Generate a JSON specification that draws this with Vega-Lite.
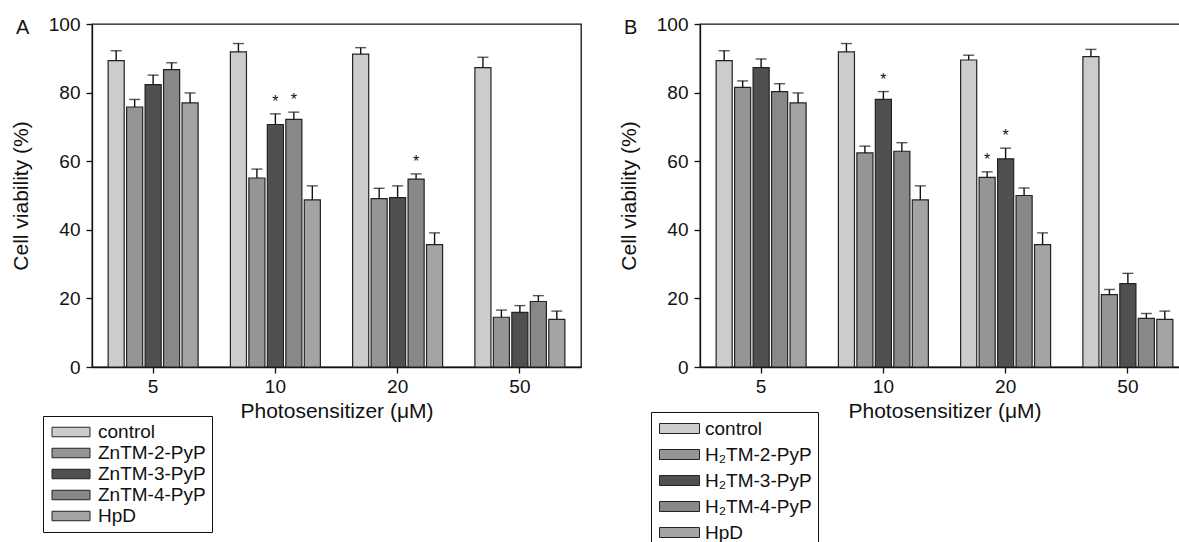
{
  "$schema": "https://vega.github.io/schema/vega-lite/v6.json",
  "padding": {"left": 9, "top": 14, "right": 0, "bottom": 0},
  "spacing": 35,
  "config": {
    "font": "Liberation Sans",
    "view": {"stroke": "#111", "strokeWidth": 1.3},
    "axis": {
      "domainColor": "#111", "domainWidth": 1.3, "tickColor": "#111", "tickWidth": 1.3, "tickSize": 6,
      "labelColor": "#111", "labelFont": "Liberation Sans", "labelFontSize": 19,
      "titleColor": "#111", "titleFont": "Liberation Sans", "titleFontSize": 21, "titleFontWeight": "normal",
      "grid": false
    },
    "legend": {
      "labelFont": "Liberation Sans", "labelFontSize": 19, "labelColor": "#111"
    }
  },
  "datasets": {
    "A": [
      {"conc": 5, "series": "control", "value": 89.3, "upper": 92.2, "sig": ""},
      {"conc": 5, "series": "ZnTM-2-PyP", "value": 75.8, "upper": 78.0, "sig": ""},
      {"conc": 5, "series": "ZnTM-3-PyP", "value": 82.3, "upper": 85.1, "sig": ""},
      {"conc": 5, "series": "ZnTM-4-PyP", "value": 86.7, "upper": 88.7, "sig": ""},
      {"conc": 5, "series": "HpD", "value": 77.0, "upper": 79.9, "sig": ""},
      {"conc": 10, "series": "control", "value": 91.9, "upper": 94.3, "sig": ""},
      {"conc": 10, "series": "ZnTM-2-PyP", "value": 55.1, "upper": 57.7, "sig": ""},
      {"conc": 10, "series": "ZnTM-3-PyP", "value": 70.7, "upper": 73.8, "sig": "*"},
      {"conc": 10, "series": "ZnTM-4-PyP", "value": 72.2, "upper": 74.3, "sig": "*"},
      {"conc": 10, "series": "HpD", "value": 48.7, "upper": 52.8, "sig": ""},
      {"conc": 20, "series": "control", "value": 91.2, "upper": 93.1, "sig": ""},
      {"conc": 20, "series": "ZnTM-2-PyP", "value": 49.1, "upper": 52.1, "sig": ""},
      {"conc": 20, "series": "ZnTM-3-PyP", "value": 49.4, "upper": 52.8, "sig": ""},
      {"conc": 20, "series": "ZnTM-4-PyP", "value": 54.8, "upper": 56.3, "sig": "*"},
      {"conc": 20, "series": "HpD", "value": 35.7, "upper": 39.1, "sig": ""},
      {"conc": 50, "series": "control", "value": 87.3, "upper": 90.3, "sig": ""},
      {"conc": 50, "series": "ZnTM-2-PyP", "value": 14.5, "upper": 16.6, "sig": ""},
      {"conc": 50, "series": "ZnTM-3-PyP", "value": 15.9, "upper": 17.9, "sig": ""},
      {"conc": 50, "series": "ZnTM-4-PyP", "value": 19.1, "upper": 20.8, "sig": ""},
      {"conc": 50, "series": "HpD", "value": 13.9, "upper": 16.3, "sig": ""}
    ],
    "B": [
      {"conc": 5, "series": "control", "value": 89.3, "upper": 92.2, "sig": ""},
      {"conc": 5, "series": "H₂TM-2-PyP", "value": 81.5, "upper": 83.4, "sig": ""},
      {"conc": 5, "series": "H₂TM-3-PyP", "value": 87.3, "upper": 89.8, "sig": ""},
      {"conc": 5, "series": "H₂TM-4-PyP", "value": 80.3, "upper": 82.6, "sig": ""},
      {"conc": 5, "series": "HpD", "value": 77.0, "upper": 79.9, "sig": ""},
      {"conc": 10, "series": "control", "value": 91.9, "upper": 94.3, "sig": ""},
      {"conc": 10, "series": "H₂TM-2-PyP", "value": 62.4, "upper": 64.4, "sig": ""},
      {"conc": 10, "series": "H₂TM-3-PyP", "value": 78.0, "upper": 80.3, "sig": "*"},
      {"conc": 10, "series": "H₂TM-4-PyP", "value": 62.9, "upper": 65.4, "sig": ""},
      {"conc": 10, "series": "HpD", "value": 48.7, "upper": 52.8, "sig": ""},
      {"conc": 20, "series": "control", "value": 89.5, "upper": 90.9, "sig": ""},
      {"conc": 20, "series": "H₂TM-2-PyP", "value": 55.3, "upper": 56.9, "sig": "*"},
      {"conc": 20, "series": "H₂TM-3-PyP", "value": 60.7, "upper": 63.8, "sig": "*"},
      {"conc": 20, "series": "H₂TM-4-PyP", "value": 50.0, "upper": 52.2, "sig": ""},
      {"conc": 20, "series": "HpD", "value": 35.7, "upper": 39.1, "sig": ""},
      {"conc": 50, "series": "control", "value": 90.5, "upper": 92.6, "sig": ""},
      {"conc": 50, "series": "H₂TM-2-PyP", "value": 21.1, "upper": 22.6, "sig": ""},
      {"conc": 50, "series": "H₂TM-3-PyP", "value": 24.3, "upper": 27.3, "sig": ""},
      {"conc": 50, "series": "H₂TM-4-PyP", "value": 14.2, "upper": 15.6, "sig": ""},
      {"conc": 50, "series": "HpD", "value": 13.9, "upper": 16.3, "sig": ""}
    ]
  },
  "resolve": {"scale": {"x": "independent", "y": "independent", "xOffset": "independent", "color": "independent"}, "legend": {"color": "independent"}},
  "hconcat": [
    {
      "width": 489, "height": 343,
      "title": {"text": "A", "anchor": "start", "frame": "group", "orient": "top", "offset": 0, "dx": -76, "dy": 33, "baseline": "middle", "fontSize": 20, "fontWeight": "normal", "color": "#111", "font": "Liberation Sans"},
      "data": {"name": "A"},
      "encoding": {
        "x": {"field": "conc", "type": "ordinal", "scale": {"paddingInner": 0.264, "paddingOuter": 0.132},
              "axis": {"labelAngle": 0, "labelPadding": 4, "titlePadding": 4, "title": "Photosensitizer (μM)"}},
        "xOffset": {"field": "series", "type": "nominal", "scale": {"domain": ["control", "ZnTM-2-PyP", "ZnTM-3-PyP", "ZnTM-4-PyP", "HpD"], "paddingInner": 0.13}}
      },
      "layer": [
        {
          "mark": {"type": "bar", "stroke": "#222", "strokeWidth": 1.2},
          "encoding": {
            "y": {"field": "value", "type": "quantitative", "scale": {"domain": [0, 100]},
                  "axis": {"values": [0, 20, 40, 60, 80, 100], "labelPadding": 6, "titlePadding": 17, "title": "Cell viability (%)"}},
            "color": {"field": "series", "type": "nominal",
                      "scale": {"domain": ["control", "ZnTM-2-PyP", "ZnTM-3-PyP", "ZnTM-4-PyP", "HpD"], "range": ["#cccccc", "#959595", "#505050", "#888888", "#a4a4a4"]},
                      "legend": {"title": null, "orient": "none", "legendX": -49, "legendY": 392, "strokeColor": "#111", "fillColor": "white", "padding": 6, "rowPadding": 1, "labelOffset": 17, "symbolOffset": 12,
                                 "symbolType": "M-2,-0.5H2V0.5H-2Z", "symbolSize": 361, "symbolStrokeColor": "#222", "symbolStrokeWidth": 1, "symbolOpacity": 1}}
          }
        },
        {
          "mark": {"type": "rule", "color": "#111", "strokeWidth": 1.4},
          "encoding": {"y": {"field": "value", "type": "quantitative"}, "y2": {"field": "upper"}}
        },
        {
          "mark": {"type": "tick", "color": "#111", "thickness": 1.4, "size": 11},
          "encoding": {"y": {"field": "upper", "type": "quantitative"}}
        },
        {
          "transform": [{"filter": "datum.sig == '*'"}],
          "mark": {"type": "text", "fontSize": 16, "baseline": "alphabetic", "dy": -7, "color": "#111"},
          "encoding": {"y": {"field": "upper", "type": "quantitative"}, "text": {"field": "sig"}}
        }
      ]
    },
    {
      "width": 489, "height": 343,
      "title": {"text": "B", "anchor": "start", "frame": "group", "orient": "top", "offset": 0, "dx": -76, "dy": 33, "baseline": "middle", "fontSize": 20, "fontWeight": "normal", "color": "#111", "font": "Liberation Sans"},
      "data": {"name": "B"},
      "encoding": {
        "x": {"field": "conc", "type": "ordinal", "scale": {"paddingInner": 0.264, "paddingOuter": 0.132},
              "axis": {"labelAngle": 0, "labelPadding": 4, "titlePadding": 4, "title": "Photosensitizer (μM)"}},
        "xOffset": {"field": "series", "type": "nominal", "scale": {"domain": ["control", "H₂TM-2-PyP", "H₂TM-3-PyP", "H₂TM-4-PyP", "HpD"], "paddingInner": 0.13}}
      },
      "layer": [
        {
          "mark": {"type": "bar", "stroke": "#222", "strokeWidth": 1.2},
          "encoding": {
            "y": {"field": "value", "type": "quantitative", "scale": {"domain": [0, 100]},
                  "axis": {"values": [0, 20, 40, 60, 80, 100], "labelPadding": 6, "titlePadding": 17, "title": "Cell viability (%)"}},
            "color": {"field": "series", "type": "nominal",
                      "scale": {"domain": ["control", "H₂TM-2-PyP", "H₂TM-3-PyP", "H₂TM-4-PyP", "HpD"], "range": ["#cccccc", "#959595", "#505050", "#888888", "#a4a4a4"]},
                      "legend": {"title": null, "orient": "none", "legendX": -49, "legendY": 388, "strokeColor": "#111", "fillColor": "white", "padding": 6, "rowPadding": 5, "labelOffset": 15, "symbolOffset": 12,
                                 "symbolType": "M-2,-0.5H2V0.5H-2Z", "symbolSize": 400, "symbolStrokeColor": "#222", "symbolStrokeWidth": 1, "symbolOpacity": 1}}
          }
        },
        {
          "mark": {"type": "rule", "color": "#111", "strokeWidth": 1.4},
          "encoding": {"y": {"field": "value", "type": "quantitative"}, "y2": {"field": "upper"}}
        },
        {
          "mark": {"type": "tick", "color": "#111", "thickness": 1.4, "size": 11},
          "encoding": {"y": {"field": "upper", "type": "quantitative"}}
        },
        {
          "transform": [{"filter": "datum.sig == '*'"}],
          "mark": {"type": "text", "fontSize": 16, "baseline": "alphabetic", "dy": -7, "color": "#111"},
          "encoding": {"y": {"field": "upper", "type": "quantitative"}, "text": {"field": "sig"}}
        }
      ]
    }
  ]
}
